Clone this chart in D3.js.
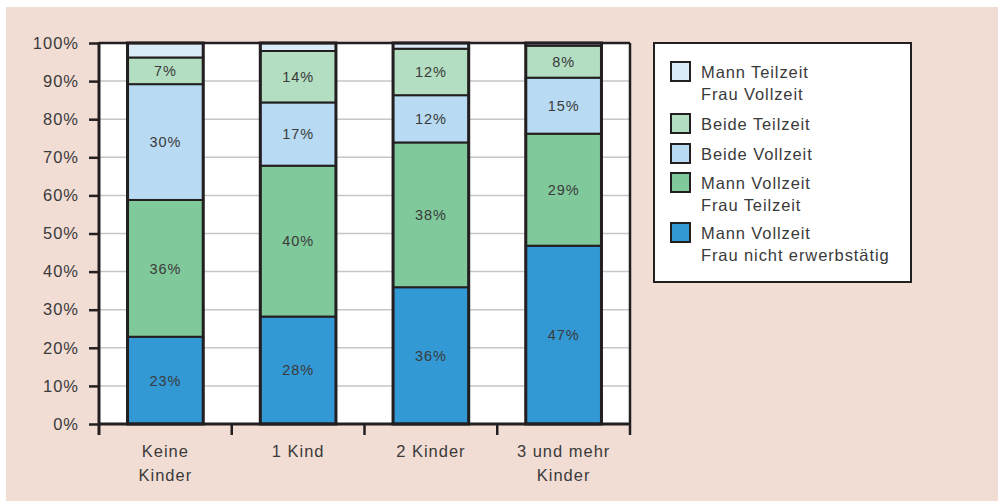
<!DOCTYPE html>
<html lang="de">
<head>
<meta charset="UTF-8">
<title>Erwerbsmodelle</title>
<script src="https://d3js.org/d3.v7.min.js"></script>
<style>
  body { margin: 0; background: #fff; }
  svg text { font-family: "Liberation Sans", Arial, sans-serif; fill: #3a3a3a; }
</style>
</head>
<body>
<div id="chart"></div>
<script>
// Categories (x axis), two-line labels
const categories = ["Keine Kinder", "1 Kind", "2 Kinder", "3 und mehr Kinder"];
const catLines = [["Keine", "Kinder"], ["1 Kind"], ["2 Kinder"], ["3 und mehr", "Kinder"]];

// Series, bottom to top of the stack
const seriesNames = ["Mann Vollzeit\nFrau nicht erwerbstätig", "Mann Vollzeit\nFrau Teilzeit", "Beide Vollzeit", "Beide Teilzeit", "Mann Teilzeit\nFrau Vollzeit"];
const seriesColors = ["#3399d5", "#80c99a", "#b8dbf3", "#b3dec1", "#daeaf7"];

// values per series, one per category (percent)
const vollNicht   = [22.9, 28.2, 35.9, 46.8];
const vollTeil    = [35.9, 39.6, 38.0, 29.4];
const beideVoll   = [30.4, 16.6, 12.4, 14.7];
const beideTeil   = [7.0, 13.5, 12.2, 8.4];
const teilVoll    = [3.8, 2.1, 1.5, 0.7];
const seriesValues = [vollNicht, vollTeil, beideVoll, beideTeil, teilVoll];
// series that carry a printed label
const labelled = [true, true, true, true, false];

const yTicks = [0, 10, 20, 30, 40, 50, 60, 70, 80, 90, 100];

const W = 999, H = 502;
const plot = {left: 99, right: 630, top: 43, bottom: 424};

const svg = d3.select("#chart").append("svg")
    .attr("width", W).attr("height", H);

// pink panel
svg.append("rect")
    .attr("x", 6).attr("y", 7).attr("width", 992).attr("height", 494)
    .attr("fill", "#f2ddd5");

// white plot area
svg.append("rect")
    .attr("x", plot.left).attr("y", plot.top)
    .attr("width", plot.right - plot.left).attr("height", plot.bottom - plot.top)
    .attr("fill", "#fff");

const x = d3.scaleBand()
    .domain(categories)
    .range([plot.left, plot.right])
    .paddingInner(0.43)
    .paddingOuter(0.215);

const y = d3.scaleLinear()
    .domain([0, 100])
    .range([plot.bottom, plot.top]);

// gridlines
svg.append("g")
  .selectAll("line")
  .data(yTicks.slice(1, -1))
  .join("line")
    .attr("x1", plot.left).attr("x2", plot.right)
    .attr("y1", d => y(d)).attr("y2", d => y(d))
    .attr("stroke", "#c6c6c6")
    .attr("stroke-width", 1.5);

// stack data
const table = categories.map((c, i) => {
    const row = {cat: c};
    seriesValues.forEach((s, k) => row["s" + k] = s[i]);
    return row;
});
const keys = seriesValues.map((s, k) => "s" + k);
const stacked = d3.stack().keys(keys)(table);

const layers = svg.append("g")
  .selectAll("g")
  .data(stacked)
  .join("g")
    .attr("fill", (d, k) => seriesColors[k]);

layers.selectAll("rect")
  .data(d => d)
  .join("rect")
    .attr("x", d => x(d.data.cat))
    .attr("y", d => y(d[1]))
    .attr("width", x.bandwidth())
    .attr("height", d => y(d[0]) - y(d[1]))
    .attr("stroke", "#231f20")
    .attr("stroke-width", 2);

// outer bar frame
svg.append("g")
  .selectAll("rect")
  .data(categories)
  .join("rect")
    .attr("x", d => x(d))
    .attr("y", y(100))
    .attr("width", x.bandwidth())
    .attr("height", y(0) - y(100))
    .attr("fill", "none")
    .attr("stroke", "#231f20")
    .attr("stroke-width", 3);

// segment labels
stacked.forEach((layer, k) => {
    if (!labelled[k]) return;
    svg.append("g")
      .selectAll("text")
      .data(layer)
      .join("text")
        .attr("x", d => x(d.data.cat) + x.bandwidth() / 2)
        .attr("y", d => (y(d[0]) + y(d[1])) / 2)
        .attr("dy", "0.36em")
        .attr("text-anchor", "middle")
        .style("font-size", "14.5px")
        .style("letter-spacing", "0.9px")
        .text(d => Math.round(d[1] - d[0]) + "%");
});

// frame: top and right
svg.append("line")
    .attr("x1", plot.left).attr("x2", plot.right)
    .attr("y1", plot.top).attr("y2", plot.top)
    .attr("stroke", "#231f20").attr("stroke-width", 2.5);
svg.append("line")
    .attr("x1", plot.right).attr("x2", plot.right)
    .attr("y1", plot.top).attr("y2", plot.bottom + 11)
    .attr("stroke", "#231f20").attr("stroke-width", 2.5);

// y axis
const yAxis = svg.append("g")
    .attr("transform", `translate(${plot.left},0)`)
    .call(d3.axisLeft(y).tickValues(yTicks).tickSize(10).tickPadding(10).tickFormat(d => d + "%"));
yAxis.select(".domain").remove();
yAxis.selectAll(".tick line").attr("stroke", "#231f20").attr("stroke-width", 2.5);
yAxis.selectAll("text").style("font-size", "16.5px").style("letter-spacing", "1px").attr("fill", "#3a3a3a");
svg.append("line")
    .attr("x1", plot.left).attr("x2", plot.left)
    .attr("y1", plot.top - 1).attr("y2", plot.bottom + 11)
    .attr("stroke", "#231f20").attr("stroke-width", 3);

// x axis baseline and boundary ticks
svg.append("line")
    .attr("x1", plot.left).attr("x2", plot.right)
    .attr("y1", plot.bottom).attr("y2", plot.bottom)
    .attr("stroke", "#231f20").attr("stroke-width", 3);
const step = x.step();
svg.append("g")
  .selectAll("line")
  .data(categories.slice(1))
  .join("line")
    .attr("x1", d => x(d) - step * x.paddingInner() / 2)
    .attr("x2", d => x(d) - step * x.paddingInner() / 2)
    .attr("y1", plot.bottom).attr("y2", plot.bottom + 11)
    .attr("stroke", "#231f20").attr("stroke-width", 2.5);

// category labels
const catG = svg.append("g")
  .selectAll("text")
  .data(categories)
  .join("text")
    .attr("x", d => x(d) + x.bandwidth() / 2)
    .attr("y", 457)
    .attr("text-anchor", "middle")
    .style("font-size", "16.5px")
    .style("letter-spacing", "1px");
catG.each(function(d, i) {
    d3.select(this).selectAll("tspan")
      .data(catLines[i])
      .join("tspan")
        .attr("x", x(d) + x.bandwidth() / 2)
        .attr("dy", (t, j) => j === 0 ? 0 : 24)
        .text(t => t);
});

// legend
const legend = svg.append("g");
legend.append("rect")
    .attr("x", 654).attr("y", 43).attr("width", 257).attr("height", 239)
    .attr("fill", "#fff").attr("stroke", "#231f20").attr("stroke-width", 2);

const legendOrder = [4, 3, 2, 1, 0];
const legendTop = [61, 113, 143, 172, 222];
legendOrder.forEach((k, i) => {
    const g = legend.append("g").attr("transform", `translate(670,${legendTop[i]})`);
    g.append("rect")
        .attr("x", 1).attr("y", 1).attr("width", 19).attr("height", 19)
        .attr("fill", seriesColors[k]).attr("stroke", "#231f20").attr("stroke-width", 2);
    const lines = seriesNames[k].split("\n");
    g.append("text")
        .attr("x", 31).attr("y", 11)
        .style("font-size", "16.5px")
        .style("letter-spacing", "0.9px")
      .selectAll("tspan")
      .data(lines)
      .join("tspan")
        .attr("x", 31)
        .attr("dy", (t, j) => j === 0 ? "0.36em" : 22)
        .text(t => t);
});
</script>
</body>
</html>
